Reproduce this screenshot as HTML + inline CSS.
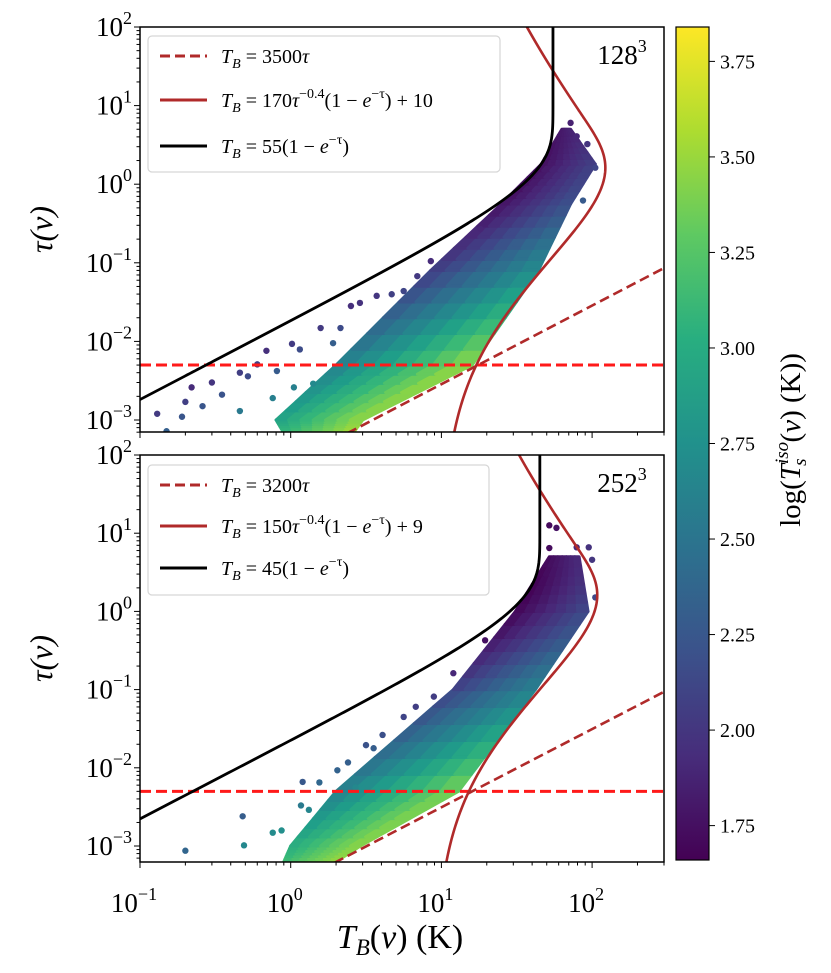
<!DOCTYPE html>
<html><head><meta charset="utf-8">
<style>
html,body{margin:0;padding:0;background:#fff;}
svg{display:block;font-family:"Liberation Serif",serif;}
</style></head>
<body>
<svg id="chart" width="831" height="973" viewBox="0 0 831 973" xmlns="http://www.w3.org/2000/svg">
<defs>
<clipPath id="clipTop"><rect x="140" y="27" width="524" height="405"/></clipPath>
<clipPath id="clipBot"><rect x="140" y="455" width="524" height="407"/></clipPath>
<linearGradient id="cbar" x1="0" y1="1" x2="0" y2="0">
<stop offset="0" stop-color="#440154"/><stop offset="0.125" stop-color="#472d7b"/><stop offset="0.25" stop-color="#3b528b"/><stop offset="0.375" stop-color="#2c728e"/><stop offset="0.5" stop-color="#21918c"/><stop offset="0.625" stop-color="#28ae80"/><stop offset="0.75" stop-color="#5ec962"/><stop offset="0.875" stop-color="#addc30"/><stop offset="1" stop-color="#fde725"/>
</linearGradient>
</defs>
<g id="root"></g>
</svg>
<script>
// ---------- data ----------
const xTickValues = [0.1, 1, 10, 100];
const xTickExps = ["−1", "0", "1", "2"];
const yTickValues = [0.001, 0.01, 0.1, 1, 10, 100];
const yTickExps = ["−3", "−2", "−1", "0", "1", "2"];
const cbarTicks = [1.75, 2.00, 2.25, 2.50, 2.75, 3.00, 3.25, 3.50, 3.75];
const cbarLabels = ["1.75", "2.00", "2.25", "2.50", "2.75", "3.00", "3.25", "3.50", "3.75"];
const horizTau = 0.005;

// top panel (128^3)
const topFit = {lin: 3500, a: 170, b: 10, sat: 55};
const topBandTau = [6.8e-4, 1e-3, 5e-3, 0.08, 0.56, 1.8, 5];
const topBandLo = [0.9, 0.8, 2.0, 8.5, 25, 46, 63];
const topBandHi = [2.6, 3.0, 16, 44, 72, 105, 72];
const topPtsTB = [0.13,0.22,0.30,0.20,0.26,0.46,0.52,0.69,1.02,1.15,1.58,2.51,2.88,3.72,4.68,5.62,6.92,8.51,18.2,2.14,1.91,0.81,0.60,0.35,0.46,0.19,0.15,1.05,1.41,0.76,93,79,72,105,87];
const topPtsTau = [0.0012,0.0026,0.0030,0.0017,0.0015,0.0040,0.0036,0.0076,0.0093,0.0079,0.0148,0.0282,0.0309,0.0380,0.0398,0.0437,0.0676,0.105,0.269,0.0148,0.0095,0.0042,0.0051,0.0021,0.0013,0.0011,0.00072,0.0026,0.0029,0.0019,3.24,4.07,6.03,1.62,0.62];

// bottom panel (252^3)
const botFit = {lin: 3200, a: 150, b: 9, sat: 45};
const botBandTau = [6.3e-4, 1e-3, 5e-3, 0.1, 1, 5];
const botBandLo = [0.9, 1.0, 2.0, 12, 31, 52];
const botBandHi = [2.0, 2.9, 13, 42, 94, 82];
const botPtsTB = [0.20,0.48,1.20,1.55,2.04,2.40,3.16,3.55,4.07,5.62,6.76,8.91,12.0,19.5,1.17,0.76,0.87,0.49,1.32,52,58,79,95,100,105,52,2.69];
const botPtsTau = [0.00087,0.0024,0.0066,0.0065,0.0093,0.0117,0.0195,0.0178,0.0263,0.0447,0.0603,0.0813,0.162,0.427,0.0033,0.00148,0.00158,0.00102,0.0029,12.6,11.7,6.6,6.6,4.57,1.51,6.46,0.0056];

// ---------- helpers ----------
const NS = "http://www.w3.org/2000/svg";
const root = document.getElementById("root");
function mk(tag, attrs, parent) {
  const e = document.createElementNS(NS, tag);
  for (const k in attrs) e.setAttribute(k, attrs[k]);
  (parent || root).appendChild(e);
  return e;
}
const X0 = 140, X1 = 664, XL0 = -1, XL1 = Math.log10(300);
function xs(v) { return X0 + (Math.log10(v) - XL0) / (XL1 - XL0) * (X1 - X0); }
function makeY(top, bottom, decade) {
  const ymin = 2 - (bottom - top) / decade;
  return v => bottom - (Math.log10(v) - ymin) * decade;
}
const VIR = [[68,1,84],[72,40,120],[62,73,137],[49,104,142],[38,130,142],[31,158,137],[53,183,121],[110,206,88],[181,222,43],[253,231,37]];
function viridis(t) {
  t = Math.max(0, Math.min(1, t));
  const s = t * (VIR.length - 1), i = Math.min(VIR.length - 2, Math.floor(s)), f = s - i;
  const c = VIR[i].map((v, k) => Math.round(v + (VIR[i + 1][k] - v) * f));
  return "rgb(" + c.join(",") + ")";
}
const CMIN = 1.66, CMAX = 3.84;
function colorFor(tb, tau) {
  const ts = tb / (1 - Math.exp(-tau));
  return viridis((Math.log10(ts) - CMIN) / (CMAX - CMIN));
}
function lerpLog(a, b, f) { return Math.exp(Math.log(a) + (Math.log(b) - Math.log(a)) * f); }

function drawPanel(cfg) {
  const ys = makeY(cfg.top, cfg.bottom, cfg.decade);
  const g = mk("g", {"clip-path": "url(#" + cfg.clip + ")"});
  
  
  const band = mk("g", {}, g);
  
  
  const SUB = 6, ACR = 7;
  for (let i = 0; i < cfg.bandTau.length - 1; i++) {
    for (let s = 0; s < SUB; s++) {
      const f0 = s / SUB, f1 = (s + 1) / SUB;
      const t0 = lerpLog(cfg.bandTau[i], cfg.bandTau[i + 1], f0), t1 = lerpLog(cfg.bandTau[i], cfg.bandTau[i + 1], f1);
      const lo0 = lerpLog(cfg.bandLo[i], cfg.bandLo[i + 1], f0), lo1 = lerpLog(cfg.bandLo[i], cfg.bandLo[i + 1], f1);
      const hi0 = lerpLog(cfg.bandHi[i], cfg.bandHi[i + 1], f0), hi1 = lerpLog(cfg.bandHi[i], cfg.bandHi[i + 1], f1);
      for (let a = 0; a < ACR; a++) {
        const g0 = a / ACR, g1 = (a + 1) / ACR;
        const pA = lerpLog(lo0, hi0, g0), pB = lerpLog(lo0, hi0, g1), pC = lerpLog(lo1, hi1, g1), pD = lerpLog(lo1, hi1, g0);
        const col = colorFor(lerpLog(lerpLog(lo0, hi0, (g0 + g1) / 2), lerpLog(lo1, hi1, (g0 + g1) / 2), 0.5), lerpLog(t0, t1, 0.5));
        const p = mk("polygon", {points: [xs(pA) + "," + ys(t0), xs(pB) + "," + ys(t0), xs(pC) + "," + ys(t1), xs(pD) + "," + ys(t1)].join(" "), fill: col, stroke: col, "stroke-width": 3, "stroke-linejoin": "round"}, band);
        
        
      }
    }
  }
  for (let i = 0; i < cfg.ptsTB.length; i++) {
    const c = mk("circle", {cx: xs(cfg.ptsTB[i]), cy: ys(cfg.ptsTau[i]), r: 3.2, fill: colorFor(cfg.ptsTB[i], cfg.ptsTau[i])}, g);
    
    
  }
  const hl = mk("line", {x1: X0, x2: X1, y1: ys(horizTau), y2: ys(horizTau), stroke: "#ff1a1a", "stroke-width": 3, "stroke-dasharray": "11,5"}, g);
  
  
  const tauS = [];
  for (let k = 0; k <= 400; k++) tauS.push(Math.pow(10, -4 + k * 7 / 400));
  const lin = mk("path", {d: "M" + xs(0.05) + "," + ys(0.05 / cfg.fit.lin) + "L" + xs(400) + "," + ys(400 / cfg.fit.lin), fill: "none", stroke: "#b02a2a", "stroke-width": 2.6, "stroke-dasharray": "10,5"}, g);
  
  
  const fitD = tauS.map((t, k) => (k ? "L" : "M") + xs(cfg.fit.a * Math.pow(t, -0.4) * (1 - Math.exp(-t)) + cfg.fit.b).toFixed(2) + "," + ys(t).toFixed(2)).join("");
  const fp = mk("path", {d: fitD, fill: "none", stroke: "#b02a2a", "stroke-width": 2.6}, g);
  
  
  const satD = tauS.map((t, k) => (k ? "L" : "M") + xs(cfg.fit.sat * (1 - Math.exp(-t))).toFixed(2) + "," + ys(t).toFixed(2)).join("");
  const sp = mk("path", {d: satD, fill: "none", stroke: "#000", "stroke-width": 2.8}, g);
  
  

  const fr = mk("rect", {x: X0, y: cfg.top, width: X1 - X0, height: cfg.bottom - cfg.top, fill: "none", stroke: "#000", "stroke-width": 1.5});
  
  
  for (let e = -4; e <= 2; e++) {
    for (let m = 1; m <= 9; m++) {
      const v = m * Math.pow(10, e), y = ys(v);
      if (y < cfg.top - 0.5 || y > cfg.bottom + 0.5) continue;
      const t = mk("line", {x1: X0, x2: X0 - (m === 1 ? 6 : 3.5), y1: y, y2: y, stroke: "#000", "stroke-width": 1});
      
      
    }
  }
  yTickValues.forEach((v, i) => {
    const y = ys(v);
    if (y < cfg.top - 1 || y > cfg.bottom + 1) return;
    const tx = mk("text", {x: 132, y: y + 9, "text-anchor": "end", "font-size": 27, fill: "#000"});
    
    
    tx.textContent = "10";
    const sup = mk("tspan", {dy: -12, "font-size": 18}, tx);
    sup.textContent = yTickExps[i];
  });
  for (let e = -1; e <= 2; e++) {
    for (let m = 1; m <= 9; m++) {
      const v = m * Math.pow(10, e), x = xs(v);
      if (x > X1 + 0.5) continue;
      const t = mk("line", {x1: x, x2: x, y1: cfg.bottom, y2: cfg.bottom + (m === 1 ? 6 : 3.5), stroke: "#000", "stroke-width": 1});
      
      
    }
  }
  if (cfg.xlabels) {
    xTickValues.forEach((v, i) => {
      const tx = mk("text", {x: xs(v) - 6, y: cfg.bottom + 50, "text-anchor": "middle", "font-size": 27, fill: "#000"});
      
      
      tx.textContent = "10";
      const sup = mk("tspan", {dy: -12, "font-size": 18}, tx);
      sup.textContent = xTickExps[i];
    });
  }
  const yl = mk("text", {x: 0, y: 0, transform: "translate(52," + ((cfg.top + cfg.bottom) / 2) + ") rotate(-90)", "text-anchor": "middle", "font-size": 32, "font-style": "italic", fill: "#000"});
  
  
  yl.textContent = "τ(v)";
  const rl = mk("text", {x: 622, y: cfg.top + 37, "text-anchor": "middle", "font-size": 27, fill: "#000"});
  
  
  rl.textContent = cfg.res;
  const rs = mk("tspan", {dy: -12, "font-size": 18}, rl);
  rs.textContent = "3";
  const lg = mk("g", {});
  
  
  const box = mk("rect", {x: 148, y: cfg.legY, width: cfg.legW, height: cfg.legH, rx: 4, fill: "#fff", "fill-opacity": 0.85, stroke: "#d6d6d6", "stroke-width": 1.2}, lg);
  
  
  const entries = [
    {stroke: "#b02a2a", dash: "10,5", type: 0},
    {stroke: "#b02a2a", dash: "", type: 1},
    {stroke: "#000", dash: "", type: 2}
  ];
  entries.forEach((en, i) => {
    const y = cfg.legEntries[i];
    const ln = mk("line", {x1: 160, x2: 207, y1: y, y2: y, stroke: en.stroke, "stroke-width": 3, "stroke-dasharray": en.dash}, lg);
    
    
    const tx = mk("text", {x: 221, y: y + 7, "font-size": 20, fill: "#000"}, lg);
    
    
    const it = mk("tspan", {"font-style": "italic"}, tx); it.textContent = "T";
    const sb = mk("tspan", {"font-style": "italic", "font-size": 14, dy: 5}, tx); sb.textContent = "B";
    const r = mk("tspan", {dy: -5}, tx);
    if (en.type === 0) { r.textContent = " = " + cfg.fit.lin; const t2 = mk("tspan", {"font-style": "italic"}, tx); t2.textContent = "τ"; }
    else if (en.type === 1) {
      r.textContent = " = " + cfg.fit.a;
      const t2 = mk("tspan", {"font-style": "italic"}, tx); t2.textContent = "τ";
      const t3 = mk("tspan", {"font-size": 14, dy: -9}, tx); t3.textContent = "−0.4";
      const t4 = mk("tspan", {dy: 9}, tx); t4.textContent = "(1 − ";
      const t5 = mk("tspan", {"font-style": "italic"}, tx); t5.textContent = "e";
      const t6 = mk("tspan", {"font-size": 14, dy: -9}, tx); t6.textContent = "−τ";
      const t7 = mk("tspan", {dy: 9}, tx); t7.textContent = ") + " + cfg.fit.b;
    } else {
      r.textContent = " = " + cfg.fit.sat + "(1 − ";
      const t5 = mk("tspan", {"font-style": "italic"}, tx); t5.textContent = "e";
      const t6 = mk("tspan", {"font-size": 14, dy: -9}, tx); t6.textContent = "−τ";
      const t7 = mk("tspan", {dy: 9}, tx); t7.textContent = ")";
    }
  });
}

drawPanel({name: "top-panel", top: 27, bottom: 432, decade: 78.6, clip: "clipTop", fit: topFit,
  bandTau: topBandTau, bandLo: topBandLo, bandHi: topBandHi, ptsTB: topPtsTB, ptsTau: topPtsTau,
  xlabels: false, res: "128", legY: 36, legW: 352, legH: 136, legEntries: [56, 100, 146]});
drawPanel({name: "bottom-panel", top: 455, bottom: 862, decade: 78.2, clip: "clipBot", fit: botFit,
  bandTau: botBandTau, bandLo: botBandLo, bandHi: botBandHi, ptsTB: botPtsTB, ptsTau: botPtsTau,
  xlabels: true, res: "252", legY: 465, legW: 341, legH: 130, legEntries: [485, 526, 568]});

const xt = mk("text", {x: 400, y: 948, "text-anchor": "middle", "font-size": 34, fill: "#000"});


const xa = mk("tspan", {"font-style": "italic"}, xt); xa.textContent = "T";
const xb = mk("tspan", {"font-style": "italic", "font-size": 23, dy: 7}, xt); xb.textContent = "B";
const xc = mk("tspan", {dy: -7}, xt); xc.textContent = "(";
const xd = mk("tspan", {"font-style": "italic"}, xt); xd.textContent = "v";
const xe = mk("tspan", {}, xt); xe.textContent = ") (K)";

const CB_T = 27, CB_B = 860;
function cy(v) { return CB_B - (v - CMIN) / (CMAX - CMIN) * (CB_B - CB_T); }
const cb = mk("rect", {x: 676, y: CB_T, width: 33, height: CB_B - CB_T, fill: "url(#cbar)", stroke: "#000", "stroke-width": 1.2});


cbarTicks.forEach((v, i) => {
  const t = mk("line", {x1: 709, x2: 715, y1: cy(v), y2: cy(v), stroke: "#000", "stroke-width": 1});
  
  
  const tx = mk("text", {x: 720, y: cy(v) + 7, "font-size": 20, fill: "#000"});
  
  
  tx.textContent = cbarLabels[i];
});
const cl = mk("text", {x: 0, y: 0, transform: "translate(800,440) rotate(-90)", "text-anchor": "middle", "font-size": 29, fill: "#000"});


const c1 = mk("tspan", {}, cl); c1.textContent = "log(";
const c2 = mk("tspan", {"font-style": "italic"}, cl); c2.textContent = "T";
const c3 = mk("tspan", {"font-style": "italic", "font-size": 19, dy: -12}, cl); c3.textContent = "iso";
const c4 = mk("tspan", {"font-style": "italic", "font-size": 19, dx: -24, dy: 18}, cl); c4.textContent = "s";
const c5 = mk("tspan", {dx: 16, dy: -6}, cl); c5.textContent = "(";
const c6 = mk("tspan", {"font-style": "italic"}, cl); c6.textContent = "v";
const c7 = mk("tspan", {}, cl); c7.textContent = ") (K))";
</script>
</body></html>
